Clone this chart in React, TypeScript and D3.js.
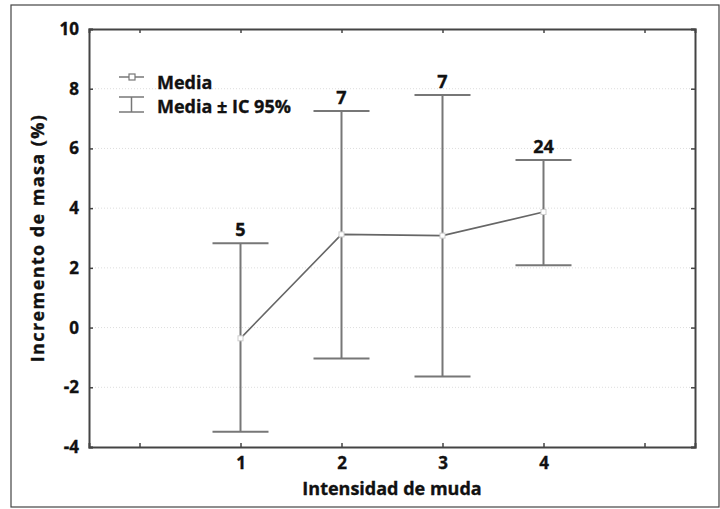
import * as d3 from 'd3';
import { useRef, useEffect } from 'react';

// DATA
const categories = [1, 2, 3, 4];
const means = [-0.36, 3.12, 3.08, 3.87];
const upper = [2.82, 7.25, 7.79, 5.61];
const lower = [-3.49, -1.04, -1.64, 2.09];
const counts = ['5', '7', '7', '24'];
const yTicks = [-4, -2, 0, 2, 4, 6, 8, 10];
const xTicks = [0, 1, 2, 3, 4, 5];

const W = 720;
const H = 509;
const margin = { top: 29, right: 25, bottom: 62, left: 89 };
const font = "'Open Sans', 'DejaVu Sans', sans-serif";

function App() {
  const svgRef = useRef<SVGSVGElement>(null);

  useEffect(() => {
    const svg = d3.select(svgRef.current);
    svg.selectAll('*').remove();

    const x = d3.scaleLinear().domain([-0.5, 5.5]).range([margin.left, W - margin.right]);
    const y = d3.scaleLinear().domain([-4, 10]).range([H - margin.bottom, margin.top]);

    // heavier text like the original bold face
    const boldText = (sel: any, size: number) =>
      sel.attr('font-family', font).attr('font-weight', 'bold').attr('font-size', size)
        .attr('fill', '#111').attr('stroke', '#111').attr('stroke-width', 0.35);

    // outer frame
    svg.append('rect')
      .attr('x', 11).attr('y', 5).attr('width', 708).attr('height', 502)
      .attr('fill', 'white').attr('stroke', '#444').attr('stroke-width', 1.2);

    // grid
    svg.append('g').selectAll('line')
      .data(yTicks.slice(1, -1))
      .join('line')
      .attr('x1', x(-0.5)).attr('x2', x(5.5))
      .attr('y1', (d) => y(d)).attr('y2', (d) => y(d))
      .attr('stroke', '#ddd').attr('stroke-width', 1).attr('stroke-dasharray', '1,2');

    // axes (ticks inside)
    const left = d3.axisLeft(y).tickValues(yTicks).tickSize(-4).tickPadding(10)
      .tickFormat((d) => String(d));
    const right = d3.axisRight(y).tickValues(yTicks).tickSize(-4).tickFormat(() => '');
    const bottom = d3.axisBottom(x).tickValues(xTicks).tickSize(-4).tickPadding(10)
      .tickFormat((d) => (categories.includes(+d) ? String(d) : ''));
    const top = d3.axisTop(x).tickValues(xTicks).tickSize(-4).tickFormat(() => '');

    const styleAxis = (g: any) => {
      g.select('.domain').attr('stroke', '#444').attr('stroke-width', 2);
      g.selectAll('.tick line').attr('stroke', '#444').attr('stroke-width', 1.5);
      boldText(g.selectAll('.tick text'), 17);
    };
    svg.append('g').attr('transform', `translate(${margin.left},0)`).call(left).call(styleAxis);
    svg.append('g').attr('transform', `translate(${W - margin.right},0)`).call(right).call(styleAxis);
    svg.append('g').attr('transform', `translate(0,${H - margin.bottom})`).call(bottom).call(styleAxis);
    svg.append('g').attr('transform', `translate(0,${margin.top})`).call(top).call(styleAxis);

    // error bars
    const bars = svg.append('g').attr('stroke', '#777').attr('stroke-width', 2);
    categories.forEach((c, i) => {
      bars.append('line').attr('x1', x(c)).attr('x2', x(c)).attr('y1', y(upper[i])).attr('y2', y(lower[i]));
      bars.append('line').attr('x1', x(c) - 28).attr('x2', x(c) + 28).attr('y1', y(upper[i])).attr('y2', y(upper[i]));
      bars.append('line').attr('x1', x(c) - 28).attr('x2', x(c) + 28).attr('y1', y(lower[i])).attr('y2', y(lower[i]));
    });

    // mean line
    svg.append('path')
      .datum(categories.map((c, i) => [c, means[i]] as [number, number]))
      .attr('d', d3.line<[number, number]>().x((d) => x(d[0])).y((d) => y(d[1])))
      .attr('fill', 'none').attr('stroke', '#666').attr('stroke-width', 1.6);

    svg.append('g').selectAll('rect')
      .data(categories)
      .join('rect')
      .attr('x', (d) => x(d) - 2.5).attr('y', (d, i) => y(means[i]) - 2.5)
      .attr('width', 5).attr('height', 5)
      .attr('fill', 'white').attr('stroke', '#ccc').attr('stroke-width', 1);

    // n labels
    svg.append('g').selectAll('text')
      .data(categories)
      .join('text')
      .attr('x', (d) => x(d)).attr('y', (d, i) => y(upper[i]) - 7)
      .attr('text-anchor', 'middle')
      .call(boldText, 18)
      .text((d, i) => counts[i]);

    // legend
    const lg = svg.append('g');
    lg.append('line').attr('x1', 119).attr('x2', 144).attr('y1', 77).attr('y2', 77)
      .attr('stroke', '#777').attr('stroke-width', 1.5);
    lg.append('rect').attr('x', 129).attr('y', 74).attr('width', 6).attr('height', 6)
      .attr('fill', 'white').attr('stroke', '#777').attr('stroke-width', 1.2);
    lg.append('line').attr('x1', 119).attr('x2', 144).attr('y1', 97).attr('y2', 97)
      .attr('stroke', '#777').attr('stroke-width', 1.5);
    lg.append('line').attr('x1', 119).attr('x2', 144).attr('y1', 112).attr('y2', 112)
      .attr('stroke', '#777').attr('stroke-width', 1.5);
    lg.append('line').attr('x1', 131.5).attr('x2', 131.5).attr('y1', 97).attr('y2', 112)
      .attr('stroke', '#777').attr('stroke-width', 1.5);
    lg.append('text').attr('x', 157).attr('y', 89).text('Media');
    lg.append('text').attr('x', 157).attr('y', 113).text('Media ± IC 95%');
    boldText(lg.selectAll('text'), 18);

    // axis titles
    svg.append('text')
      .attr('transform', `translate(44,${(margin.top + H - margin.bottom) / 2}) rotate(-90)`)
      .attr('text-anchor', 'middle')
      .call(boldText, 18)
      .attr('letter-spacing', 1.4)
      .text('Incremento de masa (%)');
    svg.append('text')
      .attr('x', x(2.5)).attr('y', 495)
      .attr('text-anchor', 'middle')
      .call(boldText, 18)
      .text('Intensidad de muda');
  }, []);

  return (
    <svg ref={svgRef} width={W} height={H} style={{ position: 'absolute', left: 0, top: 0 }} />
  );
}

export default App;
